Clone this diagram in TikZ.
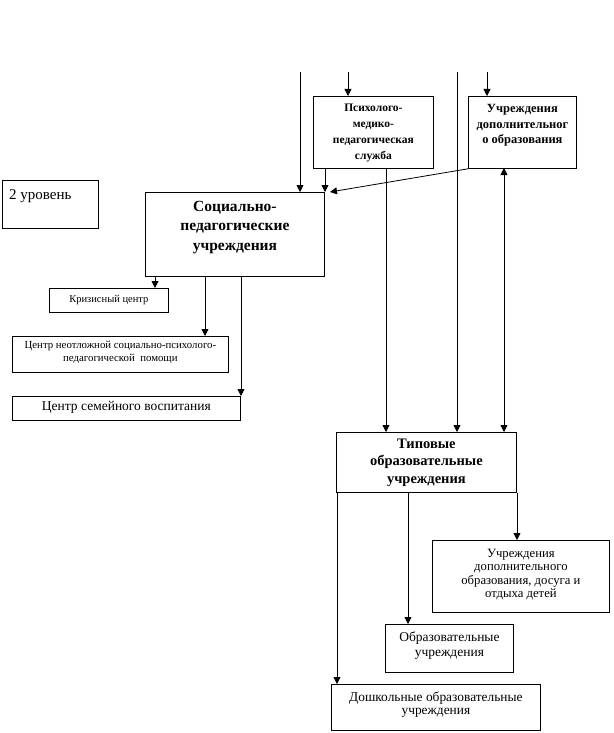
\documentclass[tikz,border=0pt]{standalone}
\usepackage{fontspec}
\setmainfont{Liberation Serif}
\usetikzlibrary{arrows.meta}
\tikzset{
  box/.style={draw, line width=0.8pt, inner sep=0pt, anchor=north west},
  txt/.style={inner sep=0pt, align=center},
  arr/.style={line width=0.8pt, -{Triangle[width=7pt,length=7pt]}},
  dbl/.style={line width=0.8pt, {Triangle[width=7pt,length=7pt]}-{Triangle[width=7pt,length=7pt]}},
  tb/.style={font=\fontsize{11.5}{16}\selectfont\bfseries},
  tbu/.style={font=\fontsize{12.5}{15.5}\selectfont\bfseries},
  tbig/.style={font=\fontsize{15.5}{19.5}\selectfont\bfseries},
  tmid/.style={font=\fontsize{14.5}{17.5}\selectfont\bfseries},
}
\begin{document}
\begin{tikzpicture}[x=1pt,y=-1pt]
\useasboundingbox (0,0) rectangle (613,733);
% boxes
\node[box, minimum width=120pt, minimum height=72pt] (psy) at (313,96) {};
\node[txt, tb] (psyT) at ([yshift=-1pt]psy.center) {Психолого-\\медико-\\педагогическая\\служба};
\node[box, minimum width=108pt, minimum height=72pt] (udo) at (468,96) {};
\node[txt, tbu] (udoT) at ([yshift=7pt]udo.center) {Учреждения\\дополнительног\\о образования};
\node[box, minimum width=96pt, minimum height=48pt] (lvl) at (2,180) {};
\node[anchor=north west, inner sep=0pt, font=\fontsize{15}{17}\selectfont] (lvlT) at (9,189) {2 уровень};
\node[box, minimum width=179pt, minimum height=84pt] (soc) at (145,192) {};
\node[txt, tbig] (socT) at ([yshift=7pt]soc.center) {Социально-\\педагогические\\учреждения};
\node[box, minimum width=119pt, minimum height=24pt] (kriz) at (49,288) {};
\node[txt, font=\fontsize{10.5}{12}\selectfont] (krizT) at (kriz.center) {Кризисный центр};
\node[box, minimum width=216pt, minimum height=36pt] (neot) at (12,336) {};
\node[txt, font=\fontsize{10.8}{13}\selectfont] (neotT) at ([yshift=2pt]neot.center) {Центр неотложной социально-психолого-\\педагогической\ \ помощи};
\node[box, minimum width=228pt, minimum height=24pt] (sem) at (12,396) {};
\node[txt, font=\fontsize{13.5}{15}\selectfont] (semT) at ([yshift=1pt]sem.center) {Центр семейного воспитания};
\node[box, minimum width=180pt, minimum height=60pt] (typ) at (336,432) {};
\node[txt, tmid] (typT) at (typ.center) {Типовые\\образовательные\\учреждения};
\node[box, minimum width=177pt, minimum height=72pt] (dosug) at (432,540) {};
\node[txt, font=\fontsize{12.7}{13.5}\selectfont] (dosugT) at ([yshift=2pt]dosug.center) {Учреждения\\дополнительного\\образования, досуга и\\отдыха детей};
\node[box, minimum width=128pt, minimum height=48pt] (obr) at (385,624) {};
\node[txt, font=\fontsize{13.5}{14.5}\selectfont] (obrT) at ([yshift=3pt]obr.center) {Образовательные\\учреждения};
\node[box, minimum width=209pt, minimum height=46pt] (dosh) at (331,684) {};
\node[txt, font=\fontsize{13.4}{13}\selectfont] (doshT) at ([yshift=3pt]dosh.center) {Дошкольные образовательные\\учреждения};
% free ends at top
\coordinate (t1) at (300,72);
\coordinate (t2) at (348,72);
\coordinate (t3) at (457,72);
\coordinate (t4) at (487,72);
% connectors
\draw[arr] (t1) -- (t1 |- soc.north);
\draw[arr] (t2) -- (t2 |- psy.north);
\draw[arr] (t3) -- (t3 |- typ.north);
\draw[arr] (t4) -- (t4 |- udo.north);
\draw[arr] (psy.south -| 325,0) -- (325,192);
\draw[arr] (psy.south -| 386,0) -- (386,432);
\draw[arr] (udo.south west) -- (330,192);
\draw[dbl] (504,432) -- (504,168);
\draw[arr] (soc.south -| 155,0) -- (155,288);
\draw[arr] (soc.south -| 205,0) -- (205,336);
\draw[arr] (soc.south -| 241,0) -- (241,396);
\draw[arr] (typ.south -| 337,0) -- (337,684);
\draw[arr] (typ.south -| 408,0) -- (408,624);
\draw[arr] (typ.south -| 517,0) -- (517,540);
\end{tikzpicture}
\end{document}
